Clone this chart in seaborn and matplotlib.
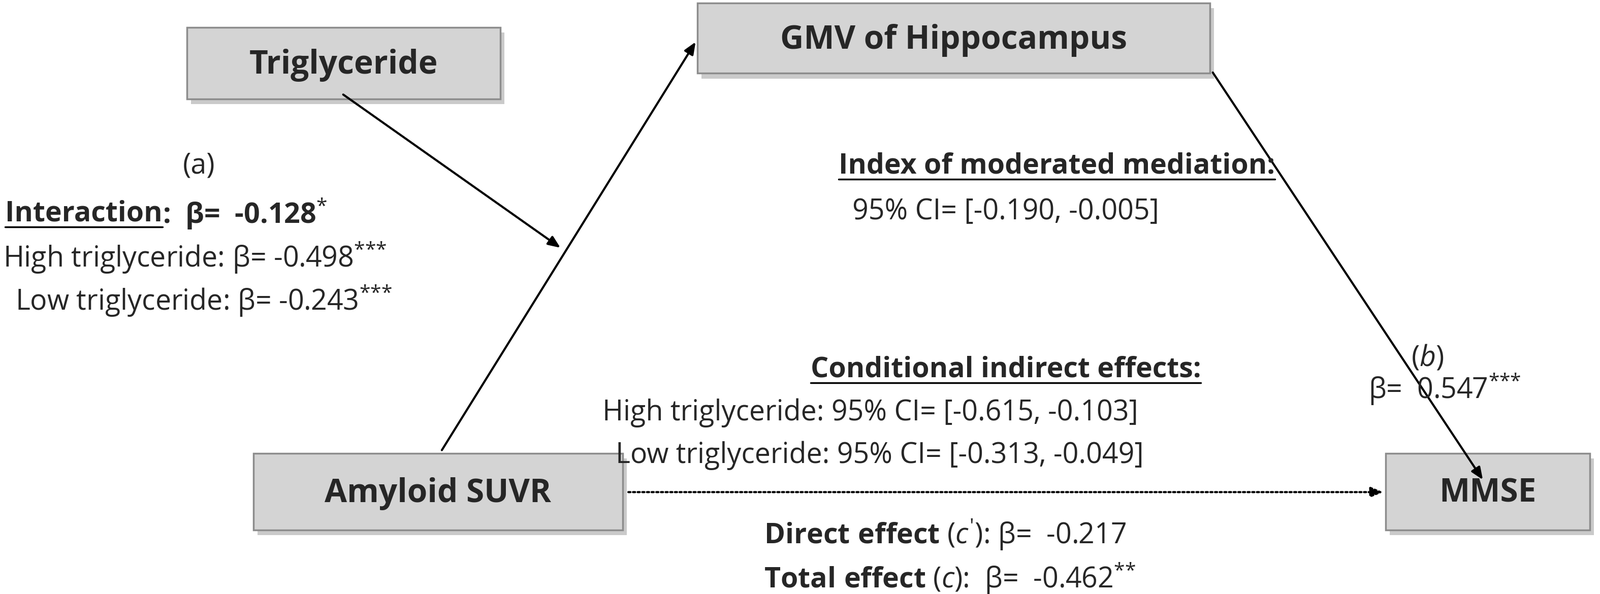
import matplotlib.pyplot as plt
import seaborn as sns
from matplotlib.patches import Rectangle

sns.set_theme(style="white")
FONT = "Open Sans"
plt.rcParams["font.family"] = FONT
plt.rcParams["mathtext.fontset"] = "custom"
plt.rcParams["mathtext.rm"] = FONT
plt.rcParams["mathtext.it"] = FONT + ":italic"
plt.rcParams["mathtext.bf"] = FONT + ":bold"

# node labels
nodes = ["Triglyceride", "GMV of Hippocampus", "Amyloid SUVR", "MMSE"]
# path coefficients
a_interaction = "-0.128"
a_high = "-0.498"
a_low = "-0.243"
b_coef = "0.547"
direct = "-0.217"
total = "-0.462"
imm_ci = ["-0.190", "-0.005"]
high_ci = ["-0.615", "-0.103"]
low_ci = ["-0.313", "-0.049"]

S1 = r"$^{{*}}$"
S2 = r"$^{{*}{*}}$"
S3 = r"$^{{*}{*}{*}}$"

fig = plt.figure(figsize=(31.5, 11.7), dpi=100)
ax = fig.add_axes([0, 0, 1, 1])
ax.set_xlim(0, 1567)
ax.set_ylim(583, 0)
ax.axis("off")

boxes = {
    "Triglyceride": (183, 27, 307, 70),
    "GMV of Hippocampus": (683, 3, 502, 69),
    "Amyloid SUVR": (248, 445, 362, 75),
    "MMSE": (1357, 445, 200, 75),
}
for name in nodes:
    x, y, w, h = boxes[name]
    ax.add_patch(Rectangle((x + 4, y + 5), w, h, fc="#a8a8a8", ec="none", alpha=0.6, zorder=1))
    ax.add_patch(Rectangle((x, y), w, h, fc="#d4d4d4", ec="#8c8c8c", lw=2.5, zorder=2))
    ax.text(x + w / 2, y + h / 2 + 2, name, ha="center", va="center",
            fontsize=46, fontweight="bold", zorder=3)

arrow_kw = dict(arrowstyle="-|>,head_length=1.2,head_width=0.5", lw=3, color="black")
ax.annotate("", xy=(550, 244), xytext=(335, 92), arrowprops=arrow_kw)
ax.annotate("", xy=(682, 40), xytext=(432, 443), arrowprops=arrow_kw)
ax.annotate("", xy=(1453, 472), xytext=(1187, 70), arrowprops=arrow_kw)
ax.annotate("", xy=(1356, 483), xytext=(614, 483),
            arrowprops=dict(arrowstyle="-|>,head_length=1.2,head_width=0.5", lw=3,
                            color="black", linestyle=(0, (1, 1.2))))

fs = 40
texts_to_underline = []

ax.text(195, 163, "(a)", ha="center", va="center", fontsize=fs)
t_int = ax.text(5, 210, "Interaction", ha="left", va="center", fontsize=fs, fontweight="bold")
texts_to_underline.append(t_int)
t_int2 = ax.text(160, 210, ":  β=  " + a_interaction + S1, ha="left", va="center",
                 fontsize=fs, fontweight="bold")
ax.text(3, 253, "High triglyceride: β= " + a_high + S3, ha="left", va="center", fontsize=fs)
ax.text(15, 295, "Low triglyceride: β= " + a_low + S3, ha="left", va="center", fontsize=fs)

t = ax.text(1035, 163, "Index of moderated mediation:", ha="center", va="center",
            fontsize=fs, fontweight="bold")
texts_to_underline.append(t)
ax.text(985, 208, f"95% CI= [{imm_ci[0]}, {imm_ci[1]}]", ha="center", va="center", fontsize=fs)

ax.text(1398, 352, r"($\it{b}$)", ha="center", va="center", fontsize=fs)
ax.text(1340, 382, "β=  " + b_coef + S3, ha="left", va="center", fontsize=fs)

t = ax.text(985, 363, "Conditional indirect effects:", ha="center", va="center",
            fontsize=fs, fontweight="bold")
texts_to_underline.append(t)
ax.text(590, 405, f"High triglyceride: 95% CI= [{high_ci[0]}, {high_ci[1]}]",
        ha="left", va="center", fontsize=fs)
ax.text(603, 447, f"Low triglyceride: 95% CI= [{low_ci[0]}, {low_ci[1]}]",
        ha="left", va="center", fontsize=fs)

ax.text(748, 525, r"$\bf{Direct\ effect}$ ($\it{c'}$): β=  " + direct,
        ha="left", va="center", fontsize=fs)
ax.text(748, 568, r"$\bf{Total\ effect}$ ($\it{c}$):  β=  " + total + S2,
        ha="left", va="center", fontsize=fs)

fig.canvas.draw()
inv = ax.transData.inverted()
bb = t_int.get_window_extent()
t_int2.set_x(inv.transform([[bb.x1, bb.y0]])[0][0])
for t in texts_to_underline:
    bb = t.get_window_extent()
    (x0, y0), (x1, y1) = inv.transform([[bb.x0, bb.y0], [bb.x1, bb.y1]])
    ax.plot([x0, x1], [y0 - 1, y0 - 1], color="black", lw=2.5)

fig.savefig("out.png", dpi=100)
